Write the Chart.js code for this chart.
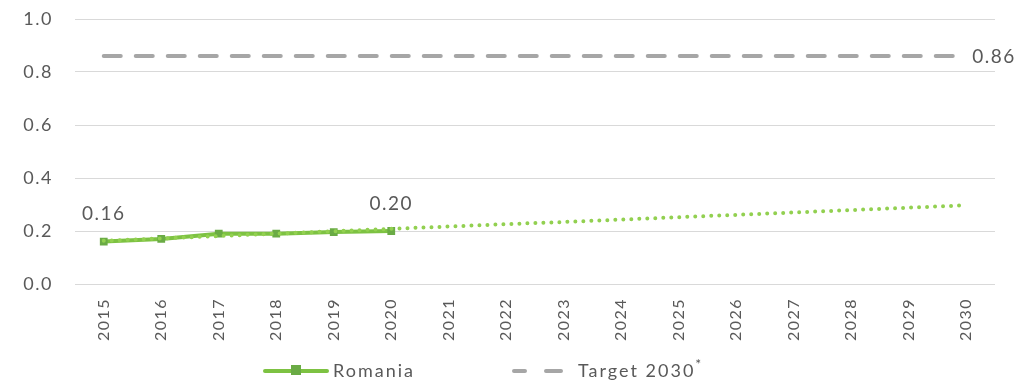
<!DOCTYPE html>
<html>
<head>
<meta charset="utf-8">
<script src="https://cdn.jsdelivr.net/npm/chart.js@4"></script>
<style>
  html, body { margin: 0; padding: 0; background: #fff; }
  #wrap { width: 1036px; height: 384px; position: relative; }
</style>
</head>
<body>
<div id="wrap"><canvas id="chart"></canvas></div>
<script>
// ---- data ----
const years = ['2015', '2016', '2017', '2018', '2019', '2020', '2021', '2022',
               '2023', '2024', '2025', '2026', '2027', '2028', '2029', '2030'];
const romania = [0.16, 0.17, 0.19, 0.19, 0.196, 0.20, null, null,
                 null, null, null, null, null, null, null, null];
const romaniaTrend = [0.163, 0.172, 0.181, 0.190, 0.199, 0.208, 0.217, 0.226,
                      0.234, 0.243, 0.252, 0.261, 0.270, 0.279, 0.288, 0.297];
const target = [0.86, 0.86, 0.86, 0.86, 0.86, 0.86, 0.86, 0.86,
                0.86, 0.86, 0.86, 0.86, 0.86, 0.86, 0.86, 0.86];
const yTicks = [0, 0.2, 0.4, 0.6, 0.8, 1.0];
// which points carry a value label: [datasetIndex, pointIndex, position]
const valueLabels = [[1, 0, 'above'], [1, 5, 'above'], [2, 15, 'right']];

const FONT = 'Lato, "Open Sans", sans-serif';
const TEXT = '#595959';
const GREEN = '#7dc242';
const GREEN_MARK = '#6aab45';
const GREEN_DOT = '#92d050';
const GREY = '#a6a6a6';

// wider letter spacing for all canvas text
const spacingPlugin = {
  id: 'spacing',
  beforeDraw(chart) { chart.ctx.letterSpacing = '1.5px'; }
};

// value labels drawn next to selected points
const valueLabelPlugin = {
  id: 'valueLabels',
  afterDatasetsDraw(chart) {
    const ctx = chart.ctx;
    ctx.save();
    ctx.font = '19px ' + FONT;
    ctx.fillStyle = TEXT;
    valueLabels.forEach(([di, pi, pos]) => {
      const el = chart.getDatasetMeta(di).data[pi];
      const v = chart.data.datasets[di].data[pi];
      const txt = v.toFixed(2);
      if (pos === 'above') {
        ctx.textAlign = 'center';
        ctx.textBaseline = 'bottom';
        ctx.fillText(txt, el.x, el.y - 18);
      } else {
        ctx.textAlign = 'left';
        ctx.textBaseline = 'middle';
        ctx.fillText(txt, el.x + 6, el.y + 1);
      }
    });
    ctx.restore();
  }
};

// bottom legend: line+marker for Romania, dashed line for the target
const legendPlugin = {
  id: 'bottomLegend',
  afterDraw(chart) {
    const ctx = chart.ctx;
    const y = 371;
    ctx.save();
    ctx.lineCap = 'round';
    // Romania
    ctx.strokeStyle = GREEN;
    ctx.lineWidth = 4;
    ctx.beginPath();
    ctx.moveTo(265, y);
    ctx.lineTo(327, y);
    ctx.stroke();
    ctx.fillStyle = GREEN_MARK;
    ctx.fillRect(291, y - 6, 10, 10);
    // Target 2030*
    ctx.strokeStyle = GREY;
    ctx.beginPath();
    ctx.moveTo(514, y);
    ctx.lineTo(525, y);
    ctx.moveTo(546, y);
    ctx.lineTo(561, y);
    ctx.stroke();
    ctx.font = '18px ' + FONT;
    ctx.letterSpacing = '2px';
    ctx.fillStyle = TEXT;
    ctx.textBaseline = 'middle';
    ctx.textAlign = 'left';
    ctx.fillText('Romania', 333, y);
    const w = ctx.measureText('Target 2030').width;
    ctx.fillText('Target 2030', 578, y);
    ctx.font = '14px ' + FONT;
    ctx.fillText('*', 578 + w, y - 7);
    ctx.restore();
  }
};

new Chart(document.getElementById('chart'), {
  type: 'line',
  data: {
    labels: years,
    datasets: [
      {
        label: 'Linear (Romania)',
        data: romaniaTrend,
        borderColor: GREEN_DOT,
        borderWidth: 4,
        borderDash: [0, 8],
        borderCapStyle: 'round',
        pointRadius: 0,
        fill: false,
        order: 0
      },
      {
        label: 'Romania',
        data: romania,
        borderColor: GREEN,
        borderWidth: 4,
        pointStyle: 'rect',
        pointRadius: 5.5,
        pointBackgroundColor: GREEN_MARK,
        pointBorderColor: GREEN_MARK,
        pointBorderWidth: 0,
        spanGaps: false,
        fill: false,
        order: 1
      },
      {
        label: 'Target 2030*',
        data: target,
        borderColor: GREY,
        borderWidth: 4,
        borderDash: [17, 15],
        borderCapStyle: 'round',
        pointRadius: 0,
        fill: false,
        order: 2
      }
    ]
  },
  options: {
    responsive: true,
    maintainAspectRatio: false,
    animation: false,
    layout: { padding: { top: 19, right: 41, bottom: 40, left: 0 } },
    plugins: {
      legend: { display: false },
      tooltip: { enabled: false }
    },
    scales: {
      x: {
        offset: true,
        grid: { display: false },
        border: { display: false },
        ticks: {
          color: TEXT,
          font: { family: FONT, size: 16 },
          maxRotation: 90,
          minRotation: 90,
          padding: 6
        },
        afterFit: (scale) => {
          scale.height = 60;
          scale.paddingLeft = 0;
          scale.paddingRight = 0;
        }
      },
      y: {
        min: 0,
        max: 1,
        afterBuildTicks: (scale) => { scale.ticks = yTicks.map(v => ({ value: v })); },
        grid: { color: '#d9d9d9', lineWidth: 1, drawTicks: false },
        border: { display: false },
        ticks: {
          color: TEXT,
          font: { family: FONT, size: 18 },
          padding: 22,
          callback: (value) => value.toFixed(1)
        },
        afterFit: (scale) => {
          scale.width = 75;
          scale.paddingTop = 0;
          scale.paddingBottom = 0;
        }
      }
    }
  },
  plugins: [spacingPlugin, valueLabelPlugin, legendPlugin]
});
</script>
</body>
</html>
